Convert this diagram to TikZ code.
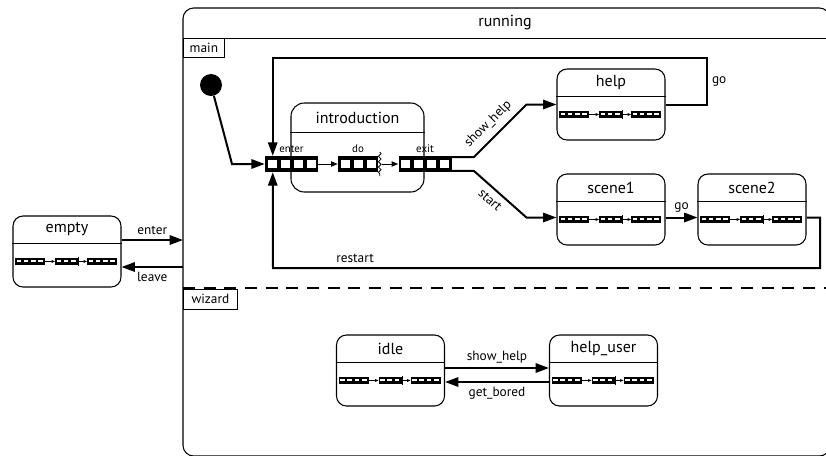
\documentclass[tikz,border=0pt]{standalone}
\usepackage{fontspec}
\setmainfont{PT Sans}
\usetikzlibrary{arrows.meta,positioning,calc,decorations.pathmorphing}

\tikzset{
  statebox/.style={draw, line width=0.8pt, rounded corners=7.5pt,
                   minimum width=81pt, minimum height=53.25pt, inner sep=0pt},
  statename/.style={font=\fontsize{12}{14}\selectfont, inner sep=0pt},
  trans/.style={line width=1.5pt, -{Triangle[length=10pt,width=7pt]}},
  smalltrans/.style={line width=0.7pt, -{Triangle[length=5pt,width=4pt]}},
  tinytrans/.style={line width=0.5pt, -{Triangle[length=2.5pt,width=2pt]}},
  translabel/.style={font=\fontsize{10}{12}\selectfont, inner sep=3pt},
  barlabel/.style={font=\fontsize{8.2}{9}\selectfont, inner sep=0.5pt},
  actbar/.style={fill=black, inner sep=0pt, minimum height=12pt},
  regiontab/.style={draw, line width=0.6pt, anchor=north west, inner sep=0pt,
                    font=\fontsize{10}{12}\selectfont},
  pics/activities/.style={code={
    \fill (-52,-3.5) rectangle (-22,3.5);
    \fill (-12,-3.5) rectangle (11,3.5);
    \fill (20,-3.5) rectangle (50,3.5);
    \foreach \k in {0,...,3}{
      \fill[white] ({-50.5+7.3*\k},-1) rectangle ++(4.6,2);
      \fill[white] ({21.5+7.3*\k},-1) rectangle ++(4.6,2);
    }
    \foreach \k in {0,1,2}
      \fill[white] ({-10.5+7.3*\k},-1) rectangle ++(4.6,2);
    \draw[tinytrans] (-22,0) -- (-12,0);
    \draw[tinytrans] (12,0) -- (20,0);
    \draw[line width=0.4pt] (11.5,-4.5) -- (11.5,4.5);
  }}
}

% state with name, header line and its activity bars
\newcommand{\umlstate}[3]{%
  \node[statebox] (#1) at (#2) {};
  \draw[line width=0.6pt] ($(#1.north west)+(0,28)$) -- ($(#1.north east)+(0,28)$);
  \node[statename] (#1-title) at ($(#1.north)+(0,14)$) {#3};
  \pic at ($(#1.north)+(0,46)$) {activities};
}

% big activity bar: name, position, squares, label
\newcommand{\actbar}[4]{%
  \node[actbar, minimum width={0.75pt*(13*#3+1)}] (#1) at (#2) {};
  \foreach \k in {1,...,#3}
    \fill[white] ($(#1.west)+({13*\k-10},-4)$) rectangle ++(9,8);
  \node[barlabel, above=1.5pt of #1] (#1-label) {#4};
}

\begin{document}
\begin{tikzpicture}[x=0.75pt, y=-0.75pt]
  \useasboundingbox (0,0) rectangle (826,455);

  % composite state
  \draw[line width=0.8pt, rounded corners=8pt] (183,456) rectangle (830,8);
  \draw[line width=0.6pt] (183,38) -- (830,38);
  \node[statename] (running) at (505,23) {running};
  \node[regiontab, minimum width=30.75pt, minimum height=14.25pt] (main) at (183,38) {main};
  \draw[line width=1.5pt, dash pattern=on 9pt off 6.5pt] (183,288) -- (830,288);
  \node[regiontab, minimum width=40.5pt, minimum height=15pt] (wizard) at (183,288.5) {wizard};

  % outside
  \umlstate{empty}{67,251.5}{empty}
  \coordinate (runin) at (183,240);
  \coordinate (runout) at (183,267);
  \draw[trans] (empty.east |- runin) -- node[above, translabel] {enter} (runin);
  \draw[trans] (runout) -- node[below, translabel] {leave} (empty.east |- runout);

  % main region
  \fill (211,85) circle (8.25pt);
  \node[circle, minimum size=16.5pt, inner sep=0pt] (init) at (211,85) {};

  \node[statebox, rounded corners=10pt, minimum width=99.75pt, minimum height=66.75pt] (intro) at (357.5,147.5) {};
  \draw[line width=0.6pt] ($(intro.north west)+(0,30)$) -- ($(intro.north east)+(0,30)$);
  \node[statename] (intro-title) at ($(intro.north)+(0,15)$) {introduction};

  \actbar{enter}{291.5,164}{4}{enter}
  \actbar{do}{358,164}{3}{do}
  \actbar{exit}{425,164}{4}{exit}
  \draw[line width=0.6pt, decorate, decoration={snake, amplitude=1pt, segment length=4pt}]
    ($(do.east)+(1.5,-12)$) -- ($(do.east)+(1.5,12)$);
  \draw[smalltrans] (enter) -- (do);
  \draw[smalltrans] ($(do.east)+(4,0)$) -- (exit);

  \umlstate{help}{611,104.5}{help}
  \umlstate{scene1}{611,209.5}{scene1}
  \umlstate{scene2}{752,209.5}{scene2}

  \coordinate (initbend) at (232,164);
  \draw[trans] (init) -- (initbend) -- (enter.west);

  \draw[trans] ($(exit.north east)+(0,1.5)$) -- ++(22,0)
    -- node[sloped, above, translabel, inner sep=4.5pt, pos=0.45] {show\_help} ($(help.west)+(-30,0)$) -- (help.west);
  \draw[trans] ($(exit.south east)+(0,-1.5)$) -- ++(22,0)
    -- node[sloped, below, translabel, inner sep=4.5pt, pos=0.45] {start} ($(scene1.west)+(-30,8)$) -- ($(scene1.west)+(0,8)$);

  \coordinate (gotop) at (707,58);
  \draw[trans] (help.east) -| node[right, pos=0.75, translabel] {go} (gotop)
    -| ($(enter.north west)+(8,0)$);

  \draw[trans] ($(scene1.east)+(0,8)$) -- node[above, translabel] {go} ($(scene2.west)+(0,8)$);

  \coordinate (restartright) at (820,268);
  \coordinate (restartleft) at (273,268);
  \draw[trans] ($(scene2.east)+(0,8)$) -| (restartright)
    -- node[pos=0.85, above, translabel] {restart} (restartleft)
    -- ($(enter.south west)+(8,0)$);

  % wizard region
  \umlstate{idle}{390.5,370.5}{idle}
  \umlstate{helpuser}{603.5,370.5}{help\_user}
  \draw[trans] ($(idle.east)+(0,-2.5)$) -- node[above, translabel] {show\_help} ($(helpuser.west)+(0,-2.5)$);
  \draw[trans] ($(helpuser.west)+(0,11.5)$) -- node[below, translabel] {get\_bored} ($(idle.east)+(0,11.5)$);
\end{tikzpicture}
\end{document}
